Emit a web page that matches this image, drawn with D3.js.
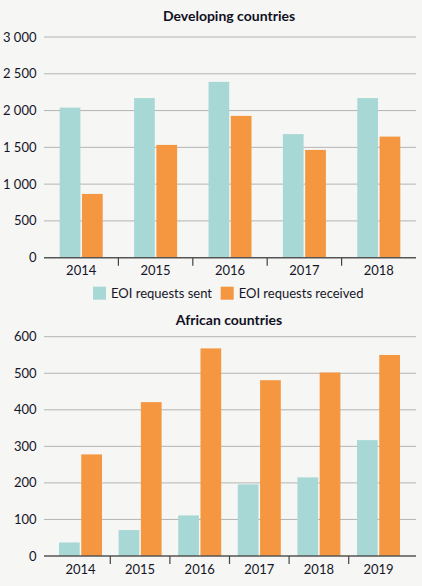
<!DOCTYPE html>
<html><head><meta charset="utf-8">
<script src="https://cdn.jsdelivr.net/npm/d3@7"></script>
<style>
html,body{margin:0;padding:0;background:#f6f6f4;}
svg{display:block;font-family:Lato,"Open Sans",sans-serif;}
</style></head>
<body><svg id="c" width="422" height="586"></svg>
<script>
const years1 = ["2014","2015","2016","2017","2018"];
const sent1 = [2040, 2170, 2390, 1680, 2170];
const received1 = [867, 1533, 1928, 1465, 1646];
const ticks1 = [0, 500, 1000, 1500, 2000, 2500, 3000];

const years2 = ["2014","2015","2016","2017","2018","2019"];
const sent2 = [37, 71, 111, 196, 215, 317];
const received2 = [278, 421, 568, 481, 502, 550];
const ticks2 = [0, 100, 200, 300, 400, 500, 600];

const seriesNames = ["EOI requests sent", "EOI requests received"];
const colors = ["#a8d8d5", "#f59640"];

const svg = d3.select("#c");
const fmt = v => v >= 1000 ? d3.format(",")(v).replace(",", " ") : String(v);

function drawChart(cfg) {
  const g = svg.append("g");
  const x = d3.scaleBand().domain(cfg.years).range(cfg.xRange).paddingInner(0).paddingOuter(0);
  const y = d3.scaleLinear().domain([0, cfg.max]).range([cfg.y0, cfg.yTop]);
  const gridL = 44, gridR = 416;
  g.append("text").attr("x", 229).attr("y", cfg.titleY).attr("text-anchor", "middle")
    .attr("font-weight", "bold").attr("font-size", 14).attr("fill", "#10101f").text(cfg.title);
  g.selectAll(".grid").data(cfg.ticks.filter(t => t > 0)).join("line")
    .attr("x1", gridL).attr("x2", gridR).attr("y1", d => y(d)).attr("y2", d => y(d))
    .attr("stroke", "#b4b4b4").attr("stroke-width", 1);
  g.selectAll(".yl").data(cfg.ticks).join("text")
    .attr("x", 36.5).attr("y", d => y(d)).attr("dy", "0.35em").attr("text-anchor", "end")
    .attr("font-size", 13).attr("fill", "#151528").text(fmt);
  const inner = d3.scaleBand().domain([0, 1]).range([0, 43]).paddingInner(0.07);
  cfg.years.forEach((yr, i) => {
    const cx = x(yr) + x.bandwidth() / 2 - 21.5;
    [cfg.sent[i], cfg.received[i]].forEach((v, k) => {
      g.append("rect").attr("x", cx + inner(k)).attr("width", inner.bandwidth())
        .attr("y", y(v)).attr("height", y(0) - y(v)).attr("fill", colors[k]);
    });
  });
  g.append("line").attr("x1", gridL).attr("x2", gridR).attr("y1", y(0)).attr("y2", y(0))
    .attr("stroke", "#555").attr("stroke-width", 1.5);
  g.selectAll(".sep").data(cfg.years.slice(1)).join("line")
    .attr("x1", d => x(d)).attr("x2", d => x(d)).attr("y1", y(0)).attr("y2", y(0) + 8)
    .attr("stroke", "#444").attr("stroke-width", 1.2);
  g.selectAll(".xl").data(cfg.years).join("text")
    .attr("x", d => x(d) + x.bandwidth() / 2).attr("y", y(0) + 13).attr("dy", "0.35em")
    .attr("text-anchor", "middle").attr("font-size", 13).attr("fill", "#151528").text(d => d);
}

drawChart({title: "Developing countries", titleY: 21, years: years1, sent: sent1, received: received1,
  ticks: ticks1, max: 3000, y0: 257.7, yTop: 37, xRange: [44, 416]});
drawChart({title: "African countries", titleY: 325, years: years2, sent: sent2, received: received2,
  ticks: ticks2, max: 600, y0: 556, yTop: 336.7, xRange: [50.7, 408.3]});

const leg = svg.append("g");
const legX = [93, 220.7];
seriesNames.forEach((n, k) => {
  leg.append("rect").attr("x", legX[k]).attr("y", 286.7).attr("width", 13).attr("height", 13).attr("fill", colors[k]);
  leg.append("text").attr("x", legX[k] + 18).attr("y", 293.5).attr("dy", "0.35em")
    .attr("font-size", 13).attr("fill", "#151528").text(n);
});
</script></body></html>
